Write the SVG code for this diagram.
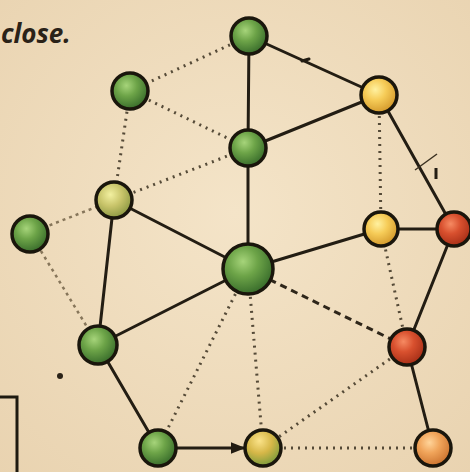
<svg xmlns="http://www.w3.org/2000/svg" width="470" height="472" viewBox="0 0 470 472">
<defs>
<radialGradient id="bg" cx="50%" cy="45%" r="75%">
<stop offset="0" stop-color="#f4e4c8"/>
<stop offset="1" stop-color="#e9d3b0"/>
</radialGradient>
<radialGradient id="gGreen" cx="40%" cy="35%" r="65%">
<stop offset="0" stop-color="#a6d47a"/>
<stop offset="0.45" stop-color="#6da448"/>
<stop offset="1" stop-color="#3a6e2c"/>
</radialGradient>
<radialGradient id="gYellow" cx="40%" cy="35%" r="65%">
<stop offset="0" stop-color="#fff1a0"/>
<stop offset="0.45" stop-color="#f6cc58"/>
<stop offset="1" stop-color="#d49a2c"/>
</radialGradient>
<radialGradient id="gLime" cx="40%" cy="35%" r="65%">
<stop offset="0" stop-color="#f2f0a0"/>
<stop offset="0.5" stop-color="#c8c46a"/>
<stop offset="1" stop-color="#8e9a44"/>
</radialGradient>
<radialGradient id="gLimeB" cx="40%" cy="30%" r="70%">
<stop offset="0" stop-color="#fbe38a"/>
<stop offset="0.5" stop-color="#d6b748"/>
<stop offset="1" stop-color="#7d9c3c"/>
</radialGradient>
<radialGradient id="gRed" cx="40%" cy="35%" r="65%">
<stop offset="0" stop-color="#f68a62"/>
<stop offset="0.45" stop-color="#d8502e"/>
<stop offset="1" stop-color="#a83018"/>
</radialGradient>
<radialGradient id="gOrange" cx="40%" cy="35%" r="65%">
<stop offset="0" stop-color="#ffd49a"/>
<stop offset="0.45" stop-color="#f0a45a"/>
<stop offset="1" stop-color="#cc7430"/>
</radialGradient>
<marker id="arr" viewBox="0 0 10 10" refX="9" refY="5" markerWidth="5" markerHeight="5" orient="auto">
<path d="M0,1 L10,5 L0,9 z" fill="#221c12"/>
</marker>
</defs>
<style>
.node { stroke: #1a160c; stroke-width: 3.5; }
.solid { stroke: #231d13; stroke-width: 3; fill: none; stroke-linecap: round; }
.dot { stroke: #3a3020; stroke-width: 3; fill: none; stroke-dasharray: 2 5; opacity: 0.85; }
.dash { stroke: #2e261a; stroke-width: 3; fill: none; stroke-dasharray: 7 5; }
.light { stroke: #5a4a30; stroke-width: 2.5; fill: none; stroke-dasharray: 3 4; opacity: 0.7; }
.label { font-family: "Open Sans", "Liberation Sans", sans-serif; font-style: italic; font-weight: bold; font-size: 26px; fill: #2a2218; }
</style>
<rect width="470" height="472" fill="url(#bg)"/>
<text class="label" x="1" y="43">close.</text>
<path d="M0,397 L17,397 L17,472" fill="none" stroke="#1e1a10" stroke-width="3"/>
<circle cx="60" cy="376" r="3" fill="#2a2218"/>
<g id="connectors">
<line class="solid" x1="249" y1="36" x2="248" y2="148"/>
<line class="solid" x1="249" y1="36" x2="379" y2="95"/>
<line class="solid" x1="248" y1="148" x2="379" y2="95"/>
<line class="solid" x1="248" y1="148" x2="248" y2="269"/>
<line class="solid" x1="379" y1="95" x2="454" y2="229"/>
<line class="solid" x1="381" y1="229" x2="454" y2="229"/>
<line class="solid" x1="454" y1="229" x2="407" y2="347"/>
<line class="solid" x1="114" y1="200" x2="248" y2="269"/>
<line class="solid" x1="114" y1="200" x2="98" y2="345"/>
<line class="solid" x1="248" y1="269" x2="98" y2="345"/>
<line class="solid" x1="248" y1="269" x2="381" y2="229"/>
<line class="solid" x1="407" y1="347" x2="433" y2="448"/>
<line class="solid" x1="98" y1="345" x2="158" y2="448"/>
<line class="solid" x1="158" y1="448" x2="244" y2="448" marker-end="url(#arr)"/>
<line class="dash" x1="248" y1="269" x2="407" y2="347"/>
<line class="dot" x1="249" y1="36" x2="130" y2="91"/>
<line class="dot" x1="130" y1="91" x2="248" y2="148"/>
<line class="dot" x1="130" y1="91" x2="114" y2="200"/>
<line class="dot" x1="114" y1="200" x2="248" y2="148"/>
<line class="light" x1="30" y1="233" x2="114" y2="200"/>
<line class="light" x1="30" y1="233" x2="98" y2="345"/>
<line class="dot" x1="379" y1="95" x2="381" y2="229"/>
<line class="dot" x1="381" y1="229" x2="407" y2="347"/>
<line class="dot" x1="248" y1="269" x2="158" y2="448"/>
<line class="dot" x1="248" y1="269" x2="263" y2="448"/>
<line class="dot" x1="407" y1="347" x2="263" y2="448"/>
<line class="dot" x1="263" y1="448" x2="433" y2="448"/>
<path d="M302,61 l7,-2" class="solid" stroke-width="2.5"/>
<path d="M415,170 l22,-16" stroke="#3a3020" stroke-width="1.5" fill="none"/>
<path d="M436,168 l0,11" stroke="#231d13" stroke-width="3" fill="none"/>
</g>
<g id="nA"><circle class="node" cx="249" cy="36" r="18" fill="url(#gGreen)"/></g>
<g id="nB"><circle class="node" cx="130" cy="91" r="18" fill="url(#gGreen)"/></g>
<g id="nC"><circle class="node" cx="379" cy="95" r="18" fill="url(#gYellow)"/></g>
<g id="nD"><circle class="node" cx="248" cy="148" r="18" fill="url(#gGreen)"/></g>
<g id="nE"><circle class="node" cx="114" cy="200" r="18" fill="url(#gLime)"/></g>
<g id="nF"><circle class="node" cx="30" cy="234" r="18" fill="url(#gGreen)"/></g>
<g id="nG"><circle class="node" cx="381" cy="229" r="17" fill="url(#gYellow)"/></g>
<g id="nH"><circle class="node" cx="454" cy="229" r="17" fill="url(#gRed)"/></g>
<g id="nI"><circle class="node" cx="248" cy="269" r="25" fill="url(#gGreen)"/></g>
<g id="nJ"><circle class="node" cx="98" cy="345" r="19" fill="url(#gGreen)"/></g>
<g id="nK"><circle class="node" cx="407" cy="347" r="18" fill="url(#gRed)"/></g>
<g id="nL"><circle class="node" cx="158" cy="448" r="18" fill="url(#gGreen)"/></g>
<g id="nM"><circle class="node" cx="263" cy="448" r="18" fill="url(#gLimeB)"/></g>
<g id="nN"><circle class="node" cx="433" cy="448" r="18" fill="url(#gOrange)"/></g>
</svg>
